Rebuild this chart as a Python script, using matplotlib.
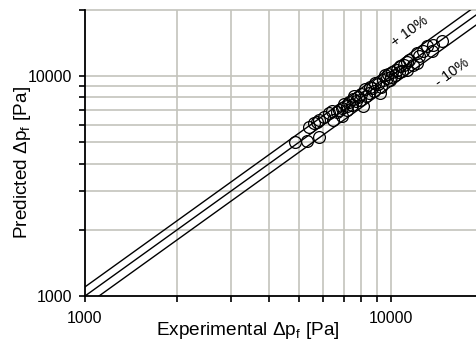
import matplotlib
matplotlib.use("Agg")
import matplotlib.pyplot as plt
import numpy as np

plt.rcParams['font.family'] = ['Liberation Sans', 'DejaVu Sans']
plt.rcParams['mathtext.fontset'] = 'custom'
plt.rcParams['mathtext.rm'] = 'Liberation Sans'

experimental = [4850, 5330, 5830, 5400, 5600, 5830, 5750, 6050, 6280, 6470, 6400, 6770, 6900, 6650,
                7160, 7050, 7300, 7450, 7500, 7700, 7600, 7920, 8130, 8000, 8300, 8200, 8540, 8500,
                8700, 8900, 9200, 9050, 9400, 9300, 9680, 9600, 9900, 10100, 10000, 10450, 10300,
                10700, 10600, 10900, 11250, 11250, 11000, 11500, 11800, 12130, 12130, 12400, 12700,
                13090, 13590, 13740, 14660, 7800, 8800, 9800, 6900, 7200]
predicted = [5040, 5090, 5310, 5900, 6100, 6330, 6200, 6500, 6790, 6330, 6950, 7030, 7200, 6900,
             7290, 7500, 7600, 7400, 7900, 7700, 8100, 7800, 7290, 8300, 8100, 8700, 8970, 8400,
             8800, 9300, 8370, 9200, 9600, 8900, 9790, 10100, 9600, 10400, 9900, 10690, 10100,
             11100, 10400, 10600, 11660, 10690, 11300, 11900, 11300, 12740, 11450, 12300, 13000,
             13650, 12970, 13900, 14390, 8000, 8600, 10200, 6600, 7000]

ref_x = [1000, 20000]
factors = [1.1, 1.0, 0.9]
grid_vals = [1000, 2000, 3000, 4000, 5000, 6000, 7000, 8000, 9000, 10000, 20000]
tick_labels = ['1000', '', '', '', '', '', '', '', '', '10000', '']

fig = plt.figure(figsize=(4.77, 3.45), dpi=100)
ax = fig.add_axes([85/477, 49/345, 398/477, 286/345])
ax.set_xscale('log')
ax.set_yscale('log')
ax.set_xlim(1000, 20000)
ax.set_ylim(1000, 20000)

gc = '#c4c4bc'
for v in grid_vals[1:]:
    ax.axvline(v, color=gc, lw=1.2, zorder=0)
    ax.axhline(v, color=gc, lw=1.2, zorder=0, clip_on=False)

for f in factors:
    ax.plot(ref_x, [f * v for v in ref_x], color='black', lw=1.0, zorder=2)

ax.plot(experimental, predicted, linestyle='none', marker='o', markersize=8.5,
        markerfacecolor='none', markeredgecolor='black', markeredgewidth=0.9, zorder=3)

ax.xaxis.set_major_locator(matplotlib.ticker.FixedLocator(grid_vals))
ax.yaxis.set_major_locator(matplotlib.ticker.FixedLocator(grid_vals))
ax.xaxis.set_minor_locator(matplotlib.ticker.NullLocator())
ax.yaxis.set_minor_locator(matplotlib.ticker.NullLocator())
ax.set_xticklabels(tick_labels)
ax.set_yticklabels(tick_labels)
ax.tick_params(axis='x', direction='out', length=4, width=1.2, pad=7, labelsize=11.5)
ax.tick_params(axis='y', direction='out', length=4, width=1.2, pad=5, labelsize=11.5)

for s in ['top', 'right']:
    ax.spines[s].set_visible(False)
for s in ['left', 'bottom']:
    ax.spines[s].set_linewidth(1.3)

ax.set_xlabel(r'Experimental $\Delta$p$_{\mathregular{f}}$ [Pa]', fontsize=13.7)
ax.set_ylabel(r'Predicted $\Delta$p$_{\mathregular{f}}$ [Pa]', fontsize=13.7)
ax.xaxis.set_label_coords(0.408, -0.119)
ax.yaxis.set_label_coords(-0.158, 0.468)
ax.xaxis.label.set_va('center')
ax.yaxis.label.set_va('center')

ax.text(11530, 15910, '+ 10%', rotation=36, ha='center', va='center', fontsize=10.5)
ax.text(15810, 10350, '- 10%', rotation=36, ha='center', va='center', fontsize=10.5)

fig.savefig('out.png', dpi=100)
